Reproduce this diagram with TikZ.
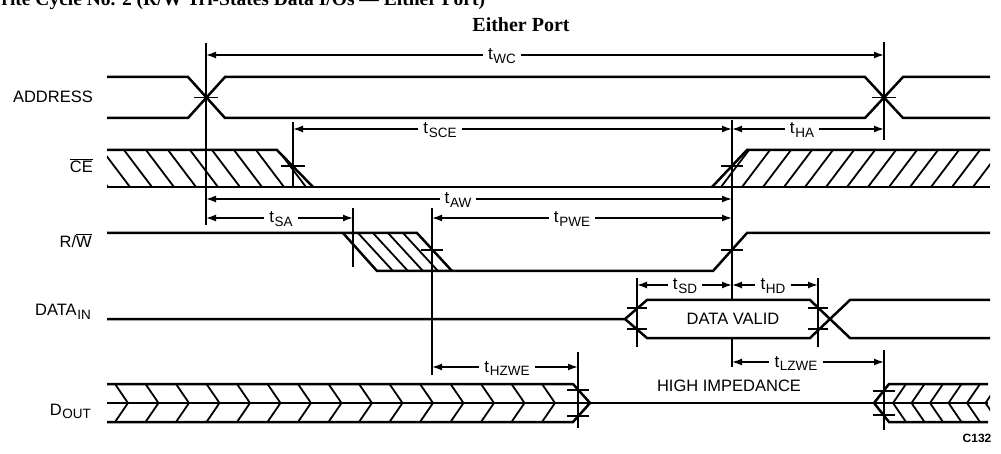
\documentclass[tikz,border=0pt]{standalone}
\usepackage{fontspec}
\setmainfont{Liberation Serif}
\newfontfamily\lsans{Liberation Sans}
\usetikzlibrary{arrows.meta}
\newcommand\sub[1]{\kern0.6pt\raisebox{-3.5pt}{\fontsize{13.5}{14}\selectfont #1}}
\newcommand\ovl[1]{\leavevmode\vbox{\hrule height 1.3pt\kern1.5pt\hbox{#1}}}
\begin{document}
\begin{tikzpicture}[x=1pt,y=-1pt,
  sig/.style={line width=2.5pt,line join=miter},
  refline/.style={line width=1.8pt},
  tick/.style={line width=1.4pt},
  hatch/.style={line width=1.8pt},
  dimarr/.style={line width=1.5pt,-{Latex[length=10pt,width=7pt]}},
  lbl/.style={font=\lsans\fontsize{16.5}{18}\selectfont, inner sep=0pt},
  tl/.style={font=\lsans\fontsize{17}{18}\selectfont, inner sep=5pt, anchor=base},
]
\fill[white] (0,0) rectangle (1001,454);
\useasboundingbox (0,0) rectangle (1001,454);

% titles
\node[anchor=base west, inner sep=0pt, font=\bfseries\fontsize{19.5}{20}\selectfont] (title) at (-18,6)
  {Write Cycle No. 2 (R/\ovl{W} Tri-States Data I/Os — Either Port)};
\node[anchor=base, inner sep=0pt, font=\bfseries\fontsize{20}{22}\selectfont] (port) at (521,32) {Either Port};

% signal names
\node[lbl,anchor=base east] (lAddr) at (93,103) {ADDRESS};
\node[lbl,anchor=base east] (lCE) at (93,173) {\ovl{CE}};
\node[lbl,anchor=base east] (lRW) at (92,248) {R/\ovl{W}};
\node[lbl,anchor=base east] (lDin) at (91,316) {DATA\sub{IN}};
\node[lbl,anchor=base east] (lDout) at (91,415) {D\sub{OUT}};

% hatching
\begin{scope}
\clip (107,150) -- (277,150) -- (313,187) -- (107,187) -- cycle;
\foreach \x in {80,102,...,320} \draw[hatch] (\x,150) -- ({\x+28},187);
\end{scope}
\begin{scope}
\clip (747,150) -- (990,150) -- (990,187) -- (712,187) -- cycle;
\foreach \x in {700,721,...,1000} \draw[hatch] (\x,187) -- ({\x+28},150);
\end{scope}
\begin{scope}
\clip (343,233) -- (417,233) -- (452,271) -- (377,271) -- cycle;
\foreach \x in {358,373,388,403} \draw[hatch] (\x,233) -- ({\x+35},271);
\end{scope}
\foreach \k in {0,...,14} {
  \pgfmathsetmacro\T{128+30.5*\k}
  \draw[hatch] ({\T-13},384) -- (\T,403) -- ({\T-13},422);
}
\begin{scope}
\clip (874,384) rectangle (990,422);
\foreach \k in {0,...,5} {
  \pgfmathsetmacro\T{893+18.5*\k}
  \draw[hatch] ({\T+13},384) -- (\T,403) -- ({\T+13},422);
}
\end{scope}

% signals
\draw[sig] (107,77) -- (188,77) -- (225,118) -- (865,118) -- (903,77) -- (990,77);
\draw[sig] (107,118) -- (188,118) -- (225,77) -- (865,77) -- (903,118) -- (990,118);
\draw[sig] (107,150) -- (277,150) -- (313,187);
\draw[sig] (107,187) -- (990,187);
\draw[sig] (712,187) -- (747,150) -- (990,150);
\draw[sig] (107,233) -- (417,233) -- (452,271);
\draw[sig] (343,233) -- (377,271) -- (713,271) -- (747,233) -- (990,233);
\draw[sig] (107,319) -- (625,319) -- (647,300) -- (810,300) -- (850,338) -- (990,338);
\draw[sig] (625,319) -- (647,338) -- (810,338) -- (850,300) -- (990,300);
\draw[sig] (107,384) -- (573,384) -- (590,403);
\draw[sig] (107,422) -- (573,422) -- (590,403);
\draw[sig] (107,403) -- (988,403);
\draw[sig] (988,384) -- (889,384) -- (874,403) -- (889,422) -- (988,422);

% reference lines
\draw[refline] (206,43) -- (206,225);
\draw[refline] (884,42) -- (884,140);
\draw[refline] (293,122) -- (293,187);
\draw[refline] (732,120) -- (732,300);
\draw[refline] (732,338) -- (732,367);
\draw[refline] (353,208) -- (353,267);
\draw[refline] (432,208) -- (432,375);
\draw[refline] (637,278) -- (637,347);
\draw[refline] (818,278) -- (818,347);
\draw[refline] (578,352) -- (578,428);
\draw[refline] (884,350) -- (884,430);

% ticks
\draw[tick] (194,97.5) -- (218,97.5);
\draw[tick] (872,97.5) -- (896,97.5);
\draw[tick] (281,166) -- (305,166);
\draw[tick] (721,166) -- (743,166);
\draw[tick] (421,250) -- (443,250);
\draw[tick] (721,250) -- (743,250);
\draw[tick] (627,308) -- (647,308);
\draw[tick] (627,329) -- (647,329);
\draw[tick] (808,308) -- (828,308);
\draw[tick] (808,329) -- (828,329);
\draw[tick] (567,390) -- (589,390);
\draw[tick] (567,416) -- (589,416);
\draw[tick] (873,391) -- (895,391);
\draw[tick] (873,415) -- (895,415);

% dimension arrows
\coordinate (wcA) at (206,55);  \coordinate (wcB) at (884,55);
\node[tl] (tWC) at (502,60) {t\sub{WC}};
\draw[dimarr] (tWC.west |- wcA) -- (wcA);
\draw[dimarr] (tWC.east |- wcB) -- (wcB);

\coordinate (sceA) at (293,129); \coordinate (sceB) at (732,129);
\node[tl] (tSCE) at (440,134) {t\sub{SCE}};
\draw[dimarr] (tSCE.west |- sceA) -- (sceA);
\draw[dimarr] (tSCE.east |- sceB) -- (sceB);

\coordinate (haA) at (732,129); \coordinate (haB) at (884,129);
\node[tl] (tHA) at (802,134) {t\sub{HA}};
\draw[dimarr] (tHA.west |- haA) -- (haA);
\draw[dimarr] (tHA.east |- haB) -- (haB);

\coordinate (awA) at (206,199); \coordinate (awB) at (732,199);
\node[tl] (tAW) at (458,204) {t\sub{AW}};
\draw[dimarr] (tAW.west |- awA) -- (awA);
\draw[dimarr] (tAW.east |- awB) -- (awB);

\coordinate (saA) at (206,218); \coordinate (saB) at (353,218);
\node[tl] (tSA) at (281,223) {t\sub{SA}};
\draw[dimarr] (tSA.west |- saA) -- (saA);
\draw[dimarr] (tSA.east |- saB) -- (saB);

\coordinate (pweA) at (432,218); \coordinate (pweB) at (732,218);
\node[tl] (tPWE) at (572,223) {t\sub{PWE}};
\draw[dimarr] (tPWE.west |- pweA) -- (pweA);
\draw[dimarr] (tPWE.east |- pweB) -- (pweB);

\coordinate (sdA) at (637,285); \coordinate (sdB) at (732,285);
\node[tl] (tSD) at (685,290) {t\sub{SD}};
\draw[dimarr] (tSD.west |- sdA) -- (sdA);
\draw[dimarr] (tSD.east |- sdB) -- (sdB);

\coordinate (hdA) at (732,285); \coordinate (hdB) at (818,285);
\node[tl] (tHD) at (773,290) {t\sub{HD}};
\draw[dimarr] (tHD.west |- hdA) -- (hdA);
\draw[dimarr] (tHD.east |- hdB) -- (hdB);

\coordinate (hzA) at (432,367); \coordinate (hzB) at (578,367);
\node[tl] (tHZWE) at (507,372) {t\sub{HZWE}};
\draw[dimarr] (tHZWE.west |- hzA) -- (hzA);
\draw[dimarr] (tHZWE.east |- hzB) -- (hzB);

\coordinate (lzA) at (732,362); \coordinate (lzB) at (884,362);
\node[tl] (tLZWE) at (796,367) {t\sub{LZWE}};
\draw[dimarr] (tLZWE.west |- lzA) -- (lzA);
\draw[dimarr] (tLZWE.east |- lzB) -- (lzB);

% texts
\node[lbl] (dv) at (733,319) {DATA VALID};
\node[lbl] (hi) at (729,386) {HIGH IMPEDANCE};
\node[font=\lsans\bfseries\fontsize{12}{12}\selectfont, inner sep=0pt] (code) at (977,438) {C132};
\end{tikzpicture}
\end{document}
